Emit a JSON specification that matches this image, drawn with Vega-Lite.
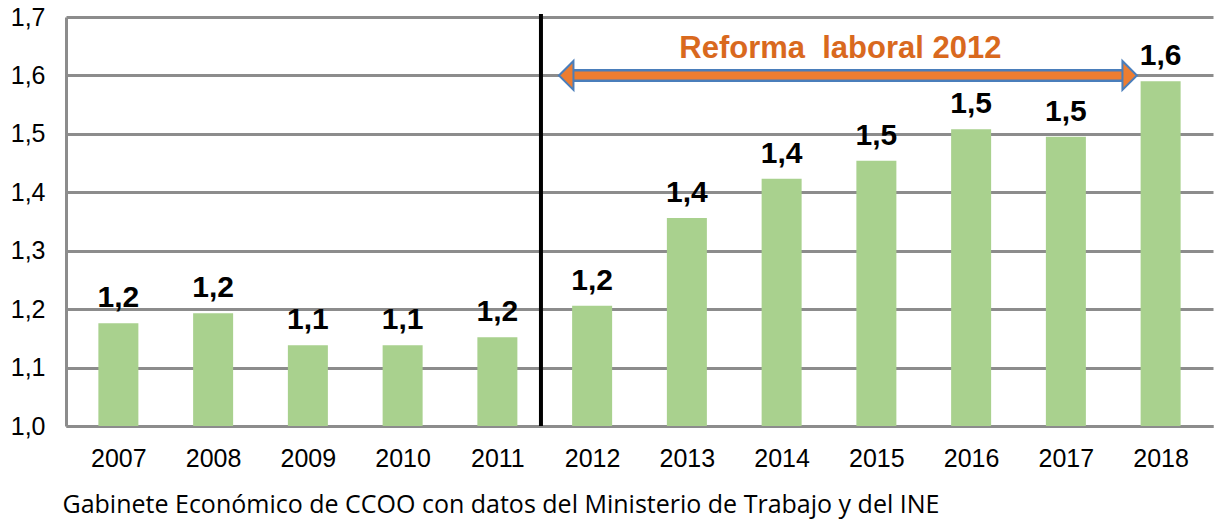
{
  "$schema": "https://vega.github.io/schema/vega-lite/v6.json",
  "autosize": {"type": "none"},
  "width": 1147,
  "height": 409,
  "padding": {"left": 66, "top": 17, "right": 4, "bottom": 97},
  "background": "white",
  "config": {
    "view": {"stroke": null},
    "locale": {"number": {"decimal": ",", "thousands": ".", "grouping": [3], "currency": ["", " €"]}},
    "font": "Liberation Sans"
  },
  "datasets": {
    "bars": [
      {"year": 2007, "v": 1.176},
      {"year": 2008, "v": 1.193},
      {"year": 2009, "v": 1.138},
      {"year": 2010, "v": 1.138},
      {"year": 2011, "v": 1.152},
      {"year": 2012, "v": 1.206},
      {"year": 2013, "v": 1.356},
      {"year": 2014, "v": 1.423},
      {"year": 2015, "v": 1.454},
      {"year": 2016, "v": 1.508},
      {"year": 2017, "v": 1.495},
      {"year": 2018, "v": 1.590}
    ],
    "divider": [{"x": 2011.46, "y": 1.0, "y2": 1.705}],
    "arrow": [{"x": 2011.8, "x2": 2017.6, "y": 1.6}],
    "heads": [
      {"x": 2011.65, "y": 1.6, "side": "left"},
      {"x": 2017.75, "y": 1.6, "side": "right"}
    ],
    "note": [{"x": 2014.62, "y": 1.63, "t": "Reforma\u00a0 laboral 2012"}]
  },
  "layer": [
    {
      "data": {"name": "bars"},
      "mark": {"type": "bar", "color": "#A9D18E", "width": 40},
      "encoding": {
        "x": {
          "field": "year", "type": "quantitative",
          "scale": {"domain": [2006.5, 2018.5], "nice": false, "zero": false},
          "axis": {
            "values": [2007, 2008, 2009, 2010, 2011, 2012, 2013, 2014, 2015, 2016, 2017, 2018],
            "format": "d",
            "grid": false,
            "ticks": false,
            "domainColor": "#8C8C8C",
            "domainWidth": 3,
            "labelFont": "Liberation Sans",
            "labelFontSize": 25,
            "labelColor": "#000000",
            "labelPadding": 20,
            "labelFlush": false,
            "title": "Gabinete Económico de CCOO con datos del Ministerio de Trabajo y del INE",
            "titleFont": "Open Sans",
            "titleFontSize": 25,
            "titleFontWeight": "normal",
            "titleColor": "#000000",
            "titleAnchor": "start",
            "titleAlign": "left",
            "titleBaseline": "alphabetic",
            "titleX": -4,
            "titleY": 86
          }
        },
        "y": {
          "field": "v", "type": "quantitative",
          "scale": {"domain": [1.0, 1.7], "nice": false, "zero": false},
          "axis": {
            "values": [1.0, 1.1, 1.2, 1.3, 1.4, 1.5, 1.6, 1.7],
            "format": ".1f",
            "grid": true,
            "gridColor": "#8C8C8C",
            "gridWidth": 3,
            "gridOpacity": 1,
            "ticks": false,
            "domainColor": "#8C8C8C",
            "domainWidth": 3,
            "labelFont": "Liberation Sans",
            "labelFontSize": 25,
            "labelColor": "#000000",
            "labelPadding": 21,
            "labelFlush": false,
            "title": null
          }
        },
        "y2": {"datum": 1.0}
      }
    },
    {
      "data": {"name": "bars"},
      "mark": {"type": "text", "fontSize": 30, "fontWeight": "bold", "color": "#000000", "baseline": "alphabetic", "dy": -16},
      "encoding": {
        "x": {"field": "year", "type": "quantitative"},
        "y": {"field": "v", "type": "quantitative"},
        "text": {"field": "v", "type": "quantitative", "format": ".1f"}
      }
    },
    {
      "data": {"name": "divider"},
      "mark": {"type": "rule", "color": "#000000", "strokeWidth": 4, "clip": false},
      "encoding": {
        "x": {"field": "x", "type": "quantitative"},
        "y": {"field": "y", "type": "quantitative"},
        "y2": {"field": "y2"}
      }
    },
    {
      "data": {"name": "arrow"},
      "mark": {"type": "rule", "color": "#4A7EBB", "strokeWidth": 13, "strokeCap": "butt"},
      "encoding": {
        "x": {"field": "x", "type": "quantitative"},
        "x2": {"field": "x2"},
        "y": {"field": "y", "type": "quantitative"}
      }
    },
    {
      "data": {"name": "arrow"},
      "mark": {"type": "rule", "color": "#ED7D31", "strokeWidth": 8, "strokeCap": "butt"},
      "encoding": {
        "x": {"field": "x", "type": "quantitative"},
        "x2": {"field": "x2"},
        "y": {"field": "y", "type": "quantitative"}
      }
    },
    {
      "data": {"name": "heads"},
      "transform": [{"filter": "datum.side == 'left'"}],
      "mark": {"type": "point", "shape": "M 0 0 L 1 -1 L 1 1 Z", "size": 841, "filled": true, "fill": "#ED7D31", "stroke": "#4A7EBB", "strokeWidth": 2, "opacity": 1, "fillOpacity": 1},
      "encoding": {
        "x": {"field": "x", "type": "quantitative"},
        "y": {"field": "y", "type": "quantitative"}
      }
    },
    {
      "data": {"name": "heads"},
      "transform": [{"filter": "datum.side == 'right'"}],
      "mark": {"type": "point", "shape": "M 0 0 L -1 -1 L -1 1 Z", "size": 841, "filled": true, "fill": "#ED7D31", "stroke": "#4A7EBB", "strokeWidth": 2, "opacity": 1, "fillOpacity": 1},
      "encoding": {
        "x": {"field": "x", "type": "quantitative"},
        "y": {"field": "y", "type": "quantitative"}
      }
    },
    {
      "data": {"name": "note"},
      "mark": {"type": "text", "fontSize": 31, "fontWeight": "bold", "color": "#D9691E", "align": "center", "baseline": "alphabetic", "clip": false},
      "encoding": {
        "x": {"field": "x", "type": "quantitative"},
        "y": {"field": "y", "type": "quantitative"},
        "text": {"field": "t"}
      }
    }
  ]
}
